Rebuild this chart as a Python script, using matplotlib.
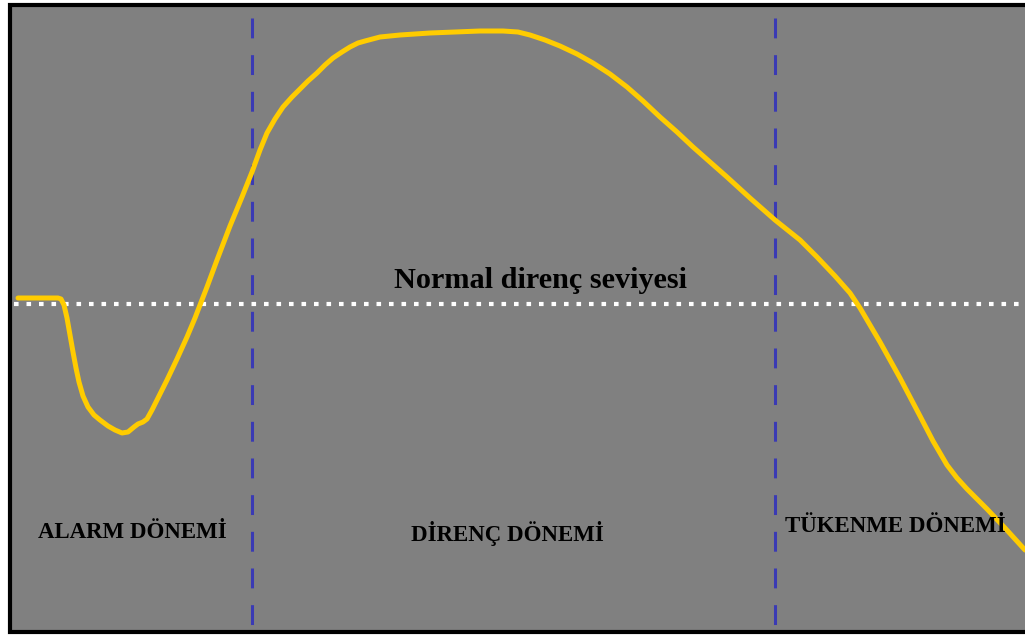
import matplotlib.pyplot as plt
from matplotlib.patches import Rectangle

plt.rcParams['font.family'] = ['Liberation Serif', 'DejaVu Serif']

# direnç eğrisi (piksel koordinatları, y aşağı doğru artar)
curve_x = [18, 40, 58, 61, 64, 67, 70, 73, 76, 79, 83, 88, 94, 100, 108, 115,
           122, 128, 134, 138, 143, 147, 152, 158, 167, 177, 187, 195, 200, 207,
           217, 230, 242, 252, 260, 267, 275, 283, 292, 300, 308, 317, 325, 333,
           342, 350, 358, 365, 380, 400, 430, 455, 480, 503, 518, 530, 545, 560,
           577, 593, 610, 627, 643, 660, 677, 693, 710, 727, 750, 775, 800, 817,
           835, 850, 860, 870, 880, 890, 900, 910, 920, 933, 947, 957, 967, 977,
           987, 1005, 1025]
curve_y = [298, 298, 298, 299, 305, 318, 335, 352, 368, 382, 396, 407, 415, 420,
           426, 430, 433, 432, 427, 424, 422, 419, 410, 398, 380, 359, 337, 318,
           305, 287, 260, 226, 197, 172, 150, 133, 119, 107, 97, 89, 81, 73, 65,
           58, 52, 47, 43, 41, 37, 35, 33, 32, 31, 31, 32, 35, 40, 46, 54, 63,
           74, 87, 101, 117, 132, 147, 162, 177, 198, 220, 240, 257, 276, 293,
           308, 325, 342, 360, 378, 397, 416, 441, 465, 478, 489, 499, 509, 528,
           550]

normal_level = 304
phase_bounds = [252, 775]

labels = ['ALARM DÖNEMİ', 'DİRENÇ DÖNEMİ', 'TÜKENME DÖNEMİ']
label_x = [132, 507, 895]
label_y = [533, 533, 526]

fig = plt.figure(figsize=(10.25, 6.36), dpi=100)
ax = fig.add_axes([0, 0, 1, 1])
ax.set_xlim(0, 1025)
ax.set_ylim(636, 0)
ax.axis('off')

# gri arka plan ve siyah çerçeve
ax.add_patch(Rectangle((9.5, 5), 1100, 627, facecolor='#808080',
                       edgecolor='black', linewidth=3, zorder=0))

# dönem sınırları
for bx in phase_bounds:
    ax.plot([bx, bx], [18, 632], color='#3a3ab4', linewidth=2.2,
            linestyle=(0, (6.5, 5.5)), zorder=1)

# normal direnç seviyesi
ax.plot([14, 1025], [normal_level, normal_level], color='white', linewidth=3,
        linestyle=(0, (1.1, 1.9)), dash_capstyle='butt', zorder=2)
ax.text(541, 281, 'Normal direnç seviyesi', ha='center', va='center',
        fontsize=21.8, fontweight='bold', color='black', zorder=3)

ax.plot(curve_x, curve_y, color='#ffcc00', linewidth=3.6,
        solid_joinstyle='round', solid_capstyle='round', zorder=4)

for t, x, y in zip(labels, label_x, label_y):
    ax.text(x, y, t, ha='center', va='center', fontsize=16.5,
            fontweight='bold', color='black', zorder=5)

fig.savefig('out.png', dpi=100)
